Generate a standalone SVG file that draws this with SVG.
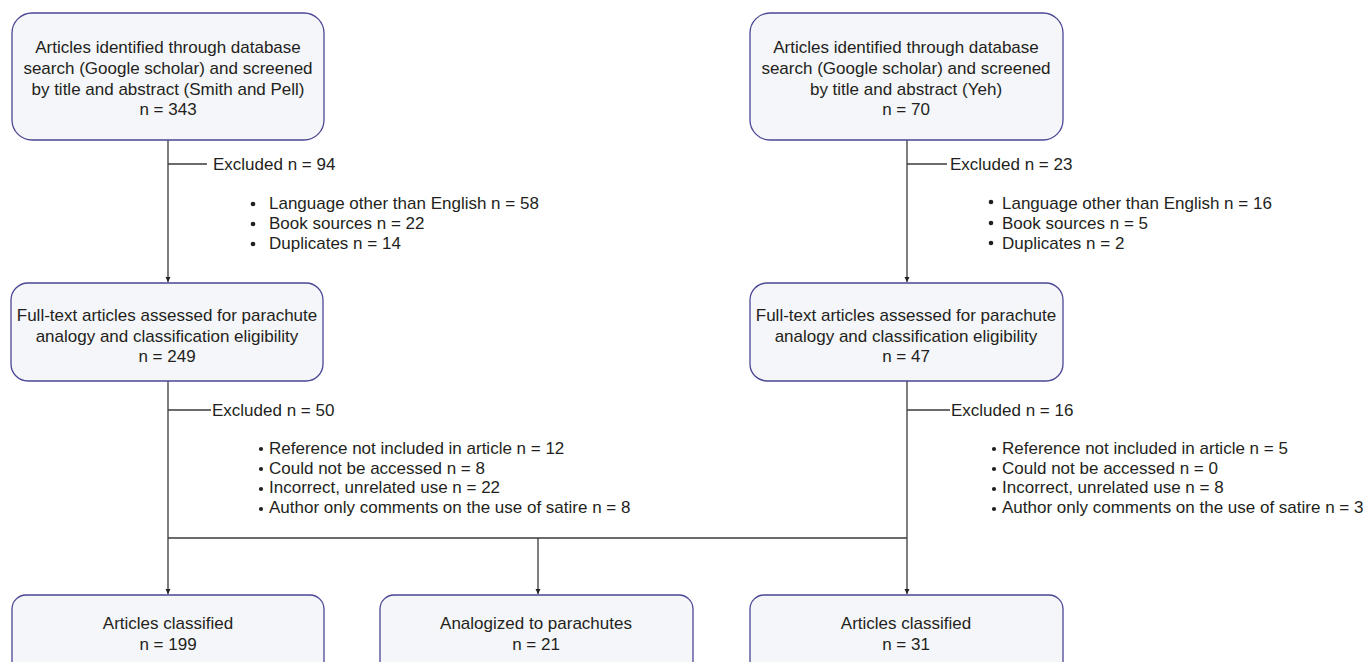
<svg xmlns="http://www.w3.org/2000/svg" width="1372" height="662" viewBox="0 0 1372 662">
<style>
.box{fill:#f5f6f9;stroke:#4a4794;stroke-width:1.3}
.t{font-family:"Liberation Sans",Arial,sans-serif;font-size:17px;fill:#231f20}
.c{text-anchor:middle}
.ln{fill:none;stroke:#3a3a3a;stroke-width:1.3}
.dot{fill:#231f20}
</style>
<defs>
<marker id="ah" viewBox="0 0 10 10" refX="10" refY="5" markerWidth="5" markerHeight="7" markerUnits="userSpaceOnUse" orient="auto">
<path d="M0,0 L10,5 L0,10 Z" fill="#231f20"/>
</marker>
</defs>
<rect width="1372" height="662" fill="#ffffff"/>

<g id="connectors">
<path class="ln" d="M168,140 V282" marker-end="url(#ah)"/>
<path class="ln" d="M168,164 H207"/>
<path class="ln" d="M907,140 V282" marker-end="url(#ah)"/>
<path class="ln" d="M907,164 H947"/>
<path class="ln" d="M168,381 V594" marker-end="url(#ah)"/>
<path class="ln" d="M168,410 H211"/>
<path class="ln" d="M907,381 V594" marker-end="url(#ah)"/>
<path class="ln" d="M907,410 H950"/>
<path class="ln" d="M168,538 H907"/>
<path class="ln" d="M538,538 V594" marker-end="url(#ah)"/>
</g>

<g id="node-search-left">
<rect class="box" x="12" y="13" width="312" height="127" rx="20"/>
<text class="t c" x="168" y="53">Articles identified through database</text>
<text class="t c" x="168" y="74">search (Google scholar) and screened</text>
<text class="t c" x="168" y="95">by title and abstract (Smith and Pell)</text>
<text class="t c" x="168" y="115">n = 343</text>
</g>

<g id="node-search-right">
<rect class="box" x="750" y="13" width="313" height="127" rx="20"/>
<text class="t c" x="906" y="53">Articles identified through database</text>
<text class="t c" x="906" y="74">search (Google scholar) and screened</text>
<text class="t c" x="906" y="95">by title and abstract (Yeh)</text>
<text class="t c" x="906" y="115">n = 70</text>
</g>

<g id="excl-top-left">
<text class="t" x="213" y="170">Excluded n = 94</text>
<circle class="dot" cx="253" cy="204" r="2.3"/>
<circle class="dot" cx="253" cy="224" r="2.3"/>
<circle class="dot" cx="253" cy="244" r="2.3"/>
<text class="t" x="269" y="209">Language other than English n = 58</text>
<text class="t" x="269" y="229">Book sources n = 22</text>
<text class="t" x="269" y="249">Duplicates n = 14</text>
</g>

<g id="excl-top-right">
<text class="t" x="950" y="170">Excluded n = 23</text>
<circle class="dot" cx="991" cy="202" r="2.3"/>
<circle class="dot" cx="991" cy="223" r="2.3"/>
<circle class="dot" cx="991" cy="243" r="2.3"/>
<text class="t" x="1002" y="209">Language other than English n = 16</text>
<text class="t" x="1002" y="229">Book sources n = 5</text>
<text class="t" x="1002" y="249">Duplicates n = 2</text>
</g>

<g id="node-fulltext-left">
<rect class="box" x="11" y="283" width="312" height="98" rx="17"/>
<text class="t c" x="167" y="321">Full-text articles assessed for parachute</text>
<text class="t c" x="167" y="342">analogy and classification eligibility</text>
<text class="t c" x="167" y="362">n = 249</text>
</g>

<g id="node-fulltext-right">
<rect class="box" x="750" y="283" width="313" height="98" rx="17"/>
<text class="t c" x="906" y="321">Full-text articles assessed for parachute</text>
<text class="t c" x="906" y="342">analogy and classification eligibility</text>
<text class="t c" x="906" y="362">n = 47</text>
</g>

<g id="excl-bottom-left">
<text class="t" x="212" y="416">Excluded n = 50</text>
<circle class="dot" cx="261" cy="449" r="2.1"/>
<circle class="dot" cx="261" cy="469" r="2.1"/>
<circle class="dot" cx="261" cy="489" r="2.1"/>
<circle class="dot" cx="261" cy="509" r="2.1"/>
<text class="t" x="269" y="454">Reference not included in article n = 12</text>
<text class="t" x="269" y="474">Could not be accessed n = 8</text>
<text class="t" x="269" y="493">Incorrect, unrelated use n = 22</text>
<text class="t" x="269" y="513">Author only comments on the use of satire n = 8</text>
</g>

<g id="excl-bottom-right">
<text class="t" x="951" y="416">Excluded n = 16</text>
<circle class="dot" cx="994" cy="449" r="2.1"/>
<circle class="dot" cx="994" cy="469" r="2.1"/>
<circle class="dot" cx="994" cy="489" r="2.1"/>
<circle class="dot" cx="994" cy="509" r="2.1"/>
<text class="t" x="1002" y="454">Reference not included in article n = 5</text>
<text class="t" x="1002" y="474">Could not be accessed n = 0</text>
<text class="t" x="1002" y="493">Incorrect, unrelated use n = 8</text>
<text class="t" x="1002" y="513">Author only comments on the use of satire n = 3</text>
</g>

<g id="node-classified-left">
<rect class="box" x="12" y="595" width="312" height="90" rx="14"/>
<text class="t c" x="168" y="629">Articles classified</text>
<text class="t c" x="168" y="650">n = 199</text>
</g>

<g id="node-analogized">
<rect class="box" x="380" y="595" width="313" height="90" rx="14"/>
<text class="t c" x="536" y="629">Analogized to parachutes</text>
<text class="t c" x="536" y="650">n = 21</text>
</g>

<g id="node-classified-right">
<rect class="box" x="750" y="595" width="313" height="90" rx="14"/>
<text class="t c" x="906" y="629">Articles classified</text>
<text class="t c" x="906" y="650">n = 31</text>
</g>
</svg>
